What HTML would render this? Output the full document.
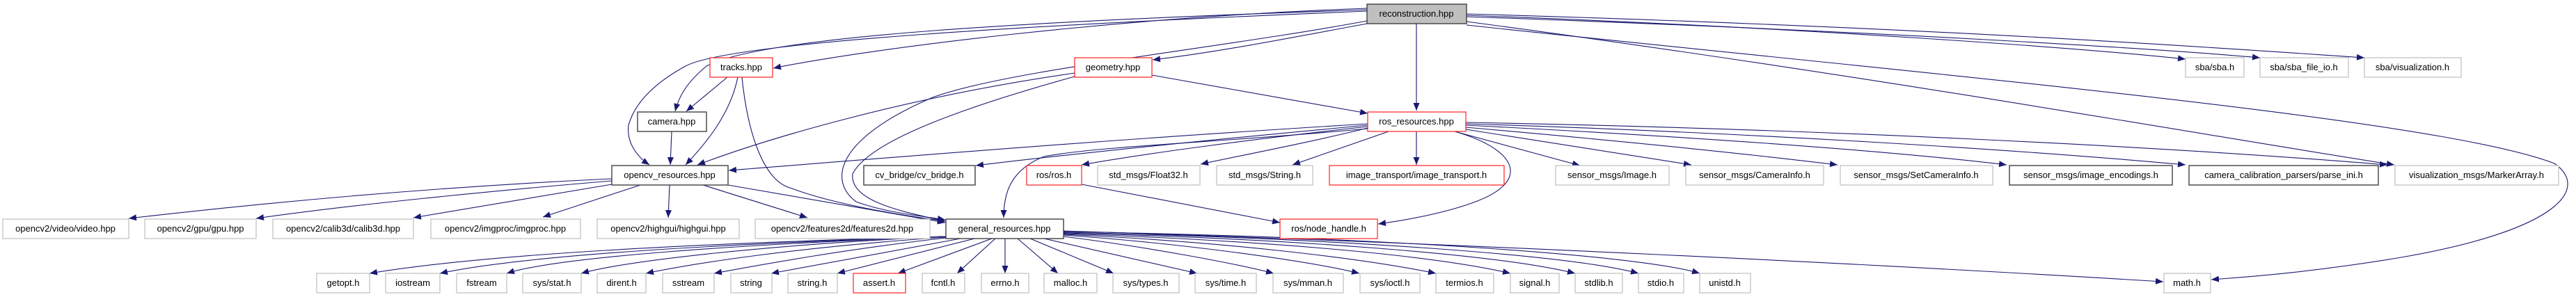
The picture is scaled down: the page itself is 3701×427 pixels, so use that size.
<!DOCTYPE html>
<html><head><meta charset="utf-8"><style>
html,body{margin:0;padding:0;background:#fff;}
svg{display:block;}
text{font-family:"Liberation Sans",sans-serif;font-size:13px;fill:#000;text-anchor:middle;}
.g{fill:#fff;stroke:#bfbfbf;stroke-width:1.2;}
.b{fill:#fff;stroke:#404040;stroke-width:1.4;}
.r{fill:#fff;stroke:#ff2020;stroke-width:1.2;}
.e{fill:none;stroke:#191970;stroke-width:1.1;marker-end:url(#a);}
</style></head><body>
<svg width="3701" height="427" viewBox="0 0 3701 427" xmlns="http://www.w3.org/2000/svg">
<defs><marker id="a" markerUnits="userSpaceOnUse" markerWidth="12" markerHeight="10" refX="11" refY="4.5" orient="auto"><path d="M0,0 L11,4.5 L0,9 z" fill="#191970"/></marker></defs>

<!-- edges from reconstruction -->
<path class="e" d="M1964,12 C1600,25 1250,70 1111,98"/>
<path class="e" d="M1964,14 C1500,30 1100,50 1015,95 C985,120 975,140 970,160"/>
<path class="e" d="M1964,16 C1500,35 1050,60 985,95 C930,125 910,155 903,180 C900,205 915,225 933,237"/>
<path class="e" d="M1964,34 C1850,55 1750,75 1656,86"/>
<path class="e" d="M1964,30 C1750,70 1450,100 1340,140 C1200,200 1190,260 1230,290 C1270,305 1320,310 1358,316"/>
<path class="e" d="M2035,34 L2035,159"/>
<path class="e" d="M2107,22 C2600,40 3000,70 3140,85"/>
<path class="e" d="M2107,24 C2700,45 3100,70 3247,83"/>
<path class="e" d="M2107,20 C2800,40 3200,70 3397,83"/>
<path class="e" d="M2107,31 C2700,110 3200,200 3440,237"/>
<path class="e" d="M2107,36 C2800,110 3500,170 3670,235 C3720,270 3680,330 3450,370 C3300,395 3200,400 3177,402"/>

<!-- tracks -->
<path class="e" d="M1045,111 L986,160"/>
<path class="e" d="M1060,111 C1050,160 1020,200 985,237"/>
<path class="e" d="M1066,111 C1075,200 1100,260 1135,270 C1200,295 1300,310 1358,318"/>
<!-- camera -->
<path class="e" d="M965,189 L963,237"/>
<!-- geometry -->
<path class="e" d="M1544,105 C1300,140 1100,200 1002,237"/>
<path class="e" d="M1544,110 C1400,150 1250,200 1225,250 C1220,290 1300,305 1358,318"/>
<path class="e" d="M1655,108 L1965,163"/>

<!-- ros_resources -->
<path class="e" d="M1965,178 C1600,200 1300,225 1047,245"/>
<path class="e" d="M1965,180 C1750,200 1550,220 1402,238"/>
<path class="e" d="M1965,182 C1800,200 1650,220 1554,237"/>
<path class="e" d="M1965,184 C1880,205 1800,220 1725,236"/>
<path class="e" d="M1995,189 L1857,237"/>
<path class="e" d="M2035,189 L2035,237"/>
<path class="e" d="M2090,189 L2270,238"/>
<path class="e" d="M2106,186 L2430,237"/>
<path class="e" d="M2106,183 C2300,200 2500,220 2640,237"/>
<path class="e" d="M2106,180 C2400,195 2700,215 2883,237"/>
<path class="e" d="M2106,178 C2500,190 2900,215 3140,237"/>
<path class="e" d="M2106,176 C2600,185 3100,210 3430,237"/>
<path class="e" d="M1965,185 C1750,205 1580,210 1500,225 C1450,245 1442,280 1442,313"/>
<path class="e" d="M2090,189 C2180,215 2200,260 2120,290 C2080,305 2030,315 1980,322"/>
<path class="e" d="M1554,265 L1839,320"/>

<!-- opencv_resources -->
<path class="e" d="M879,257 C600,270 350,295 185,314"/>
<path class="e" d="M879,260 C700,275 500,295 368,314"/>
<path class="e" d="M879,265 L594,313"/>
<path class="e" d="M920,266 L780,312"/>
<path class="e" d="M962,266 L960,313"/>
<path class="e" d="M1010,266 L1160,313"/>
<path class="e" d="M1046,266 L1358,320"/>

<!-- general_resources -->
<path class="e" d="M1359,340 C1000,350 700,365 531,393"/>
<path class="e" d="M1359,340 C1000,352 750,368 632,393"/>
<path class="e" d="M1359,340 C1050,352 800,370 728,393"/>
<path class="e" d="M1359,340 C1100,352 900,375 835,393"/>
<path class="e" d="M1359,341 C1150,355 1000,378 928,393"/>
<path class="e" d="M1359,342 C1200,360 1070,385 1026,393"/>
<path class="e" d="M1380,343 L1108,393"/>
<path class="e" d="M1400,343 L1203,393"/>
<path class="e" d="M1425,343 L1290,393"/>
<path class="e" d="M1430,343 L1375,393"/>
<path class="e" d="M1444,343 L1444,393"/>
<path class="e" d="M1462,343 L1520,393"/>
<path class="e" d="M1480,343 L1600,393"/>
<path class="e" d="M1500,343 L1720,393"/>
<path class="e" d="M1528,340 C1650,355 1780,380 1830,393"/>
<path class="e" d="M1528,338 C1700,350 1880,375 1953,393"/>
<path class="e" d="M1528,337 C1750,347 1950,370 2063,393"/>
<path class="e" d="M1528,336 C1800,345 2050,365 2170,393"/>
<path class="e" d="M1528,335 C1850,343 2150,365 2263,393"/>
<path class="e" d="M1528,334 C1900,342 2250,365 2354,393"/>
<path class="e" d="M1528,333 C1950,340 2350,365 2442,393"/>
<path class="e" d="M1528,332 C2100,350 2700,380 3108,405"/>

<!-- nodes -->
<rect x="1964" y="6" width="143" height="28" fill="#bfbfbf" stroke="#404040" stroke-width="1.4"/><text x="2035" y="24">reconstruction.hpp</text>

<rect class="r" x="1020" y="83" width="90" height="28"/><text x="1065" y="101">tracks.hpp</text>
<rect class="r" x="1544" y="83" width="111" height="28"/><text x="1599" y="101">geometry.hpp</text>
<rect class="g" x="3140" y="83" width="84" height="28"/><text x="3182" y="101">sba/sba.h</text>
<rect class="g" x="3247" y="83" width="127" height="28"/><text x="3310" y="101">sba/sba_file_io.h</text>
<rect class="g" x="3397" y="83" width="139" height="28"/><text x="3466" y="101">sba/visualization.h</text>

<rect class="b" x="916" y="161" width="99" height="28"/><text x="965" y="179">camera.hpp</text>
<rect class="r" x="1965" y="161" width="141" height="28"/><text x="2035" y="179">ros_resources.hpp</text>

<rect class="b" x="879" y="238" width="167" height="28"/><text x="962" y="256">opencv_resources.hpp</text>
<rect class="b" x="1241" y="238" width="160" height="28"/><text x="1321" y="256">cv_bridge/cv_bridge.h</text>
<rect class="r" x="1475" y="238" width="79" height="28"/><text x="1514" y="256">ros/ros.h</text>
<rect class="g" x="1577" y="238" width="147" height="28"/><text x="1650" y="256">std_msgs/Float32.h</text>
<rect class="g" x="1748" y="238" width="138" height="28"/><text x="1817" y="256">std_msgs/String.h</text>
<rect class="r" x="1910" y="238" width="251" height="28"/><text x="2035" y="256">image_transport/image_transport.h</text>
<rect class="g" x="2235" y="238" width="163" height="28"/><text x="2316" y="256">sensor_msgs/Image.h</text>
<rect class="g" x="2422" y="238" width="198" height="28"/><text x="2521" y="256">sensor_msgs/CameraInfo.h</text>
<rect class="g" x="2644" y="238" width="219" height="28"/><text x="2753" y="256">sensor_msgs/SetCameraInfo.h</text>
<rect class="b" x="2887" y="238" width="234" height="28"/><text x="3004" y="256">sensor_msgs/image_encodings.h</text>
<rect class="b" x="3145" y="238" width="272" height="28"/><text x="3281" y="256">camera_calibration_parsers/parse_ini.h</text>
<rect class="g" x="3441" y="238" width="235" height="28"/><text x="3558" y="256">visualization_msgs/MarkerArray.h</text>

<rect class="g" x="4" y="315" width="181" height="28"/><text x="94" y="333">opencv2/video/video.hpp</text>
<rect class="g" x="208" y="315" width="160" height="28"/><text x="288" y="333">opencv2/gpu/gpu.hpp</text>
<rect class="g" x="392" y="315" width="202" height="28"/><text x="493" y="333">opencv2/calib3d/calib3d.hpp</text>
<rect class="g" x="619" y="315" width="215" height="28"/><text x="726" y="333">opencv2/imgproc/imgproc.hpp</text>
<rect class="g" x="858" y="315" width="204" height="28"/><text x="960" y="333">opencv2/highgui/highgui.hpp</text>
<rect class="g" x="1085" y="315" width="251" height="28"/><text x="1210" y="333">opencv2/features2d/features2d.hpp</text>
<rect class="b" x="1359" y="315" width="169" height="28"/><text x="1443" y="333">general_resources.hpp</text>
<rect class="r" x="1839" y="315" width="140" height="28"/><text x="1909" y="333">ros/node_handle.h</text>

<rect class="g" x="455" y="393" width="76" height="28"/><text x="493" y="411">getopt.h</text>
<rect class="g" x="554" y="393" width="78" height="28"/><text x="593" y="411">iostream</text>
<rect class="g" x="656" y="393" width="72" height="28"/><text x="692" y="411">fstream</text>
<rect class="g" x="751" y="393" width="84" height="28"/><text x="793" y="411">sys/stat.h</text>
<rect class="g" x="858" y="393" width="70" height="28"/><text x="893" y="411">dirent.h</text>
<rect class="g" x="952" y="393" width="74" height="28"/><text x="989" y="411">sstream</text>
<rect class="g" x="1050" y="393" width="59" height="28"/><text x="1079" y="411">string</text>
<rect class="g" x="1132" y="393" width="71" height="28"/><text x="1167" y="411">string.h</text>
<rect class="r" x="1226" y="393" width="75" height="28"/><text x="1263" y="411">assert.h</text>
<rect class="g" x="1325" y="393" width="61" height="28"/><text x="1355" y="411">fcntl.h</text>
<rect class="g" x="1410" y="393" width="68" height="28"/><text x="1444" y="411">errno.h</text>
<rect class="g" x="1500" y="393" width="76" height="28"/><text x="1538" y="411">malloc.h</text>
<rect class="g" x="1599" y="393" width="95" height="28"/><text x="1646" y="411">sys/types.h</text>
<rect class="g" x="1717" y="393" width="88" height="28"/><text x="1761" y="411">sys/time.h</text>
<rect class="g" x="1829" y="393" width="101" height="28"/><text x="1879" y="411">sys/mman.h</text>
<rect class="g" x="1954" y="393" width="86" height="28"/><text x="1997" y="411">sys/ioctl.h</text>
<rect class="g" x="2063" y="393" width="83" height="28"/><text x="2104" y="411">termios.h</text>
<rect class="g" x="2170" y="393" width="70" height="28"/><text x="2205" y="411">signal.h</text>
<rect class="g" x="2263" y="393" width="68" height="28"/><text x="2297" y="411">stdlib.h</text>
<rect class="g" x="2354" y="393" width="65" height="28"/><text x="2386" y="411">stdio.h</text>
<rect class="g" x="2442" y="393" width="73" height="28"/><text x="2478" y="411">unistd.h</text>
<rect class="g" x="3109" y="393" width="67" height="28"/><text x="3142" y="411">math.h</text>
</svg>
</body></html>
